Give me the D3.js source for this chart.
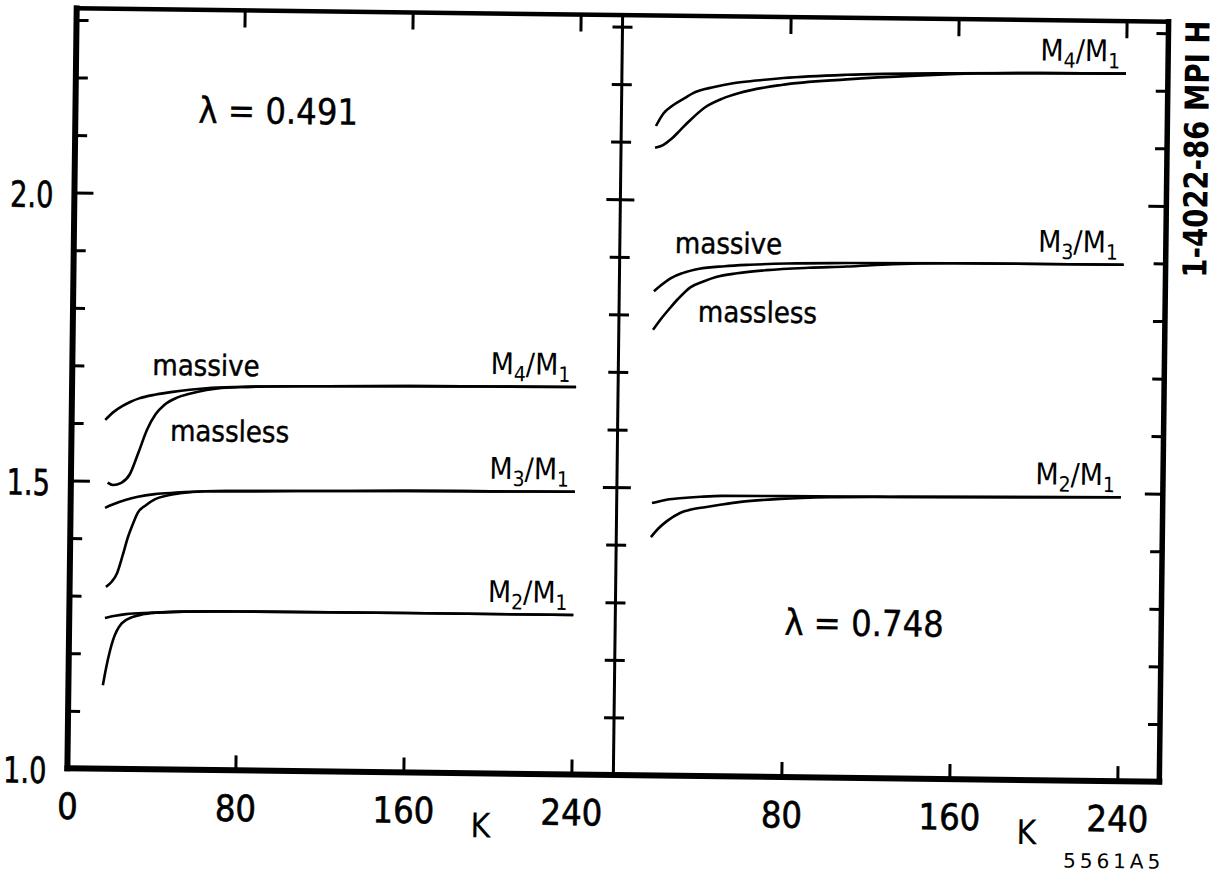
<!DOCTYPE html>
<html>
<head>
<meta charset="utf-8">
<script src="https://cdn.jsdelivr.net/npm/d3@7/dist/d3.min.js"></script>
<style>
body { margin: 0; background: #fff; }
svg { display: block; }
text { font-family: "DejaVu Sans Condensed", "DejaVu Sans", sans-serif; font-stretch: condensed; fill: #000; }
</style>
</head>
<body>
<script>
// tick values
var kTicks = [80, 160, 240];
var kLabelsLeft = [0, 80, 160, 240];
var kLabelsRight = [80, 160, 240];
var ratioMinorTicks = [1.1, 1.2, 1.3, 1.4, 1.6, 1.7, 1.8, 1.9, 2.1, 2.2, 2.3];
var ratioMajorTicks = [1.5, 2.0];
var ratioLabels = [1.0, 1.5, 2.0];

// lambda = 0.491 (left panel), [K, M_n/M_1]
var leftM4Massive = [[16,1.606],[20,1.620],[24,1.630],[28,1.638],[32,1.644],[40,1.651],[48,1.656],[56,1.660],[64,1.663],[80,1.666],[120,1.669],[160,1.671],[200,1.672],[240,1.673]];
var leftM4Massless = [[17.5,1.497],[20,1.493],[24,1.497],[28,1.512],[32,1.550],[36,1.590],[40,1.617],[44,1.633],[50,1.646],[56,1.653],[64,1.660],[80,1.666],[120,1.669],[160,1.671],[200,1.672],[240,1.673]];
var leftM3Massive = [[16.4,1.453],[20,1.459],[26,1.467],[32,1.473],[40,1.478],[50,1.481],[64,1.484],[80,1.485],[120,1.487],[160,1.489],[200,1.490],[240,1.491]];
var leftM3Massless = [[17.3,1.316],[20,1.325],[22.5,1.340],[25,1.370],[27.5,1.403],[30,1.428],[32,1.445],[36,1.459],[40,1.469],[46,1.476],[52,1.480],[64,1.484],[80,1.485],[120,1.487],[160,1.489],[200,1.490],[240,1.491]];
var leftM2Massive = [[17,1.262],[22,1.266],[27,1.269],[38,1.272],[50,1.274],[80,1.276],[160,1.277],[240,1.277]];
var leftM2Massless = [[16.4,1.145],[18,1.178],[21,1.224],[25,1.253],[30,1.264],[35,1.269],[41,1.272],[50,1.274],[80,1.276],[160,1.277],[240,1.277]];

// lambda = 0.748 (right panel)
var rightM4Massive = [[16.5,2.128],[20,2.150],[24,2.163],[30,2.177],[34,2.186],[44,2.197],[53,2.204],[64,2.209],[77,2.214],[107,2.221],[160,2.226],[200,2.228],[240,2.229]];
var rightM4Massless = [[16.2,2.090],[20,2.095],[24,2.106],[28,2.121],[32,2.136],[40,2.162],[48,2.177],[56,2.187],[76,2.202],[107,2.213],[140,2.221],[170,2.226],[200,2.228],[240,2.229]];
var rightM3Massive = [[16.5,1.841],[20,1.852],[25,1.865],[30,1.873],[38,1.881],[50,1.886],[62,1.889],[80,1.892],[108,1.894],[160,1.896],[240,1.897]];
var rightM3Massless = [[16.3,1.774],[20,1.793],[24,1.811],[28,1.828],[34,1.849],[40,1.859],[46,1.867],[56,1.874],[70,1.880],[90,1.885],[108,1.888],[130,1.893],[160,1.896],[240,1.897]];
var rightM2Massive = [[16.8,1.473],[20,1.476],[25,1.480],[30,1.482],[40,1.485],[50,1.487],[80,1.488],[135,1.489],[240,1.493]];
var rightM2Massless = [[16.5,1.414],[20,1.429],[24,1.442],[30,1.456],[36,1.463],[42,1.467],[50,1.472],[59,1.477],[78,1.483],[102,1.487],[135,1.489],[240,1.493]];

var W = 1227, H = 888;
var svg = d3.select("body").append("svg").attr("width", W).attr("height", H);

// the scanned figure sits slightly tilted
var chart = svg.append("g").attr("transform", "rotate(0.7, 617.5, 395)");

var y = d3.scaleLinear().domain([1, 2.32]).range([775, 15]);
var xLeft = d3.scaleLinear().domain([0, 260]).range([72, 618]);
var xRight = d3.scaleLinear().domain([0, 260]).range([618, 1164]);

var x0 = xLeft.range()[0], xMid = xLeft.range()[1], x1 = xRight.range()[1];
var yTop = y.range()[1], yBot = y.range()[0];

function cleanAxis(g) {
    g.select(".domain").remove();
    g.selectAll(".tick line").attr("stroke", "#000").attr("stroke-width", 3);
    g.attr("font-family", null).attr("font-size", null);
}

// squeeze a text a bit, the original lettering is narrower
function narrow(sel, f) {
    sel.each(function() {
        var len = this.getComputedTextLength();
        d3.select(this).attr("textLength", len * f).attr("lengthAdjust", "spacingAndGlyphs");
    });
}

function tickAxis(axis, tx, ty) {
    chart.append("g")
        .attr("transform", "translate(" + tx + "," + ty + ")")
        .call(axis)
        .call(cleanAxis)
        .selectAll("text").remove();
}

// left axis, inward ticks
tickAxis(d3.axisRight(y).tickValues(ratioMinorTicks).tickSize(12), x0, 0);
tickAxis(d3.axisRight(y).tickValues(ratioMajorTicks).tickSize(19), x0, 0);
// middle divider, ticks crossing it
tickAxis(d3.axisRight(y).tickValues(ratioMinorTicks).tickSize(20), xMid - 10, 0);
tickAxis(d3.axisRight(y).tickValues(ratioMajorTicks).tickSize(28), xMid - 14, 0);
// right border, inward ticks
tickAxis(d3.axisLeft(y).tickValues(ratioMinorTicks).tickSize(12), x1, 0);
tickAxis(d3.axisLeft(y).tickValues(ratioMajorTicks).tickSize(18), x1, 0);
// K ticks bottom and top
[xLeft, xRight].forEach(function(x) {
    tickAxis(d3.axisTop(x).tickValues(kTicks).tickSize(15), 0, yBot);
    tickAxis(d3.axisBottom(x).tickValues(kTicks).tickSize(17), 0, yTop);
});

// frame
var frame = [
    [x0, yTop, x1, yTop, 4.5],
    [x0, yBot, x1, yBot, 6],
    [x0, yTop, x0, yBot, 6],
    [x1, yTop, x1, yBot, 5.5],
    [xMid, yTop, xMid, yBot, 3]
];
chart.selectAll("line.frame").data(frame).enter().append("line")
    .attr("class", "frame")
    .attr("x1", function(d) { return d[0]; })
    .attr("y1", function(d) { return d[1]; })
    .attr("x2", function(d) { return d[2]; })
    .attr("y2", function(d) { return d[3]; })
    .attr("stroke", "#000")
    .attr("stroke-width", function(d) { return d[4]; })
    .attr("stroke-linecap", "square");

// axis numbers
chart.append("g")
    .attr("transform", "translate(" + x0 + ",0)")
    .call(d3.axisLeft(y).tickValues(ratioLabels).tickSize(0).tickPadding(21).tickFormat(d3.format(".1f")))
    .call(cleanAxis)
    .selectAll("text")
    .attr("font-size", 36).attr("dy", "0.4em")
    .attr("stroke", "#000").attr("stroke-width", 0.6)
    .call(narrow, 0.84);

[[xLeft, kLabelsLeft], [xRight, kLabelsRight]].forEach(function(p) {
    chart.append("g")
        .attr("transform", "translate(0," + yBot + ")")
        .call(d3.axisBottom(p[0]).tickValues(p[1]).tickSize(0).tickPadding(25))
        .call(cleanAxis)
        .selectAll("text")
        .attr("font-size", 36)
        .attr("stroke", "#000").attr("stroke-width", 0.6);
});

[xLeft, xRight].forEach(function(x) {
    chart.append("text")
        .attr("x", x(197))
        .attr("y", yBot + 64)
        .attr("text-anchor", "middle")
        .attr("font-size", 34)
        .text("K");
});

// curves
var series = [
    { x: xLeft, data: leftM4Massive, sub: "4" },
    { x: xLeft, data: leftM4Massless },
    { x: xLeft, data: leftM3Massive, sub: "3" },
    { x: xLeft, data: leftM3Massless },
    { x: xLeft, data: leftM2Massive, sub: "2" },
    { x: xLeft, data: leftM2Massless },
    { x: xRight, data: rightM4Massive, sub: "4" },
    { x: xRight, data: rightM4Massless },
    { x: xRight, data: rightM3Massive, sub: "3" },
    { x: xRight, data: rightM3Massless },
    { x: xRight, data: rightM2Massive, sub: "2" },
    { x: xRight, data: rightM2Massless }
];

series.forEach(function(s) {
    var line = d3.line()
        .x(function(d) { return s.x(d[0]); })
        .y(function(d) { return y(d[1]); })
        .curve(d3.curveMonotoneX);
    chart.append("path")
        .attr("d", line(s.data))
        .attr("fill", "none")
        .attr("stroke", "#000")
        .attr("stroke-width", 2.6);

    if (s.sub) {
        var last = s.data[s.data.length - 1];
        var t = chart.append("text")
            .attr("x", s.x(last[0]) - 6)
            .attr("y", y(last[1]) - 12)
            .attr("text-anchor", "end")
            .attr("font-size", 30);
        t.append("tspan").text("M");
        t.append("tspan").attr("font-size", 21).attr("dy", 7).text(s.sub);
        t.append("tspan").attr("dy", -7).text("/M");
        t.append("tspan").attr("font-size", 21).attr("dy", 7).text("1");
    }
});

// annotations
var notes = [
    { x: xLeft, k: 58.6, v: 2.124, size: 36, text: "\u03bb = 0.491" },
    { x: xRight, k: 80.5, v: 1.247, size: 36, text: "\u03bb = 0.748" },
    { x: xLeft, k: 38.1, v: 1.685, size: 29, text: "massive" },
    { x: xLeft, k: 46.9, v: 1.571, size: 29, text: "massless" },
    { x: xRight, k: 26.2, v: 1.908, size: 29, text: "massive" },
    { x: xRight, k: 37.6, v: 1.789, size: 29, text: "massless" }
];
chart.selectAll("text.note").data(notes).enter().append("text")
    .attr("class", "note")
    .attr("x", function(d) { return d.x(d.k); })
    .attr("y", function(d) { return y(d.v); })
    .attr("font-size", function(d) { return d.size; })
    .attr("stroke", "#000")
    .attr("stroke-width", 0.4)
    .text(function(d) { return d.text; });

chart.append("text")
    .attr("transform", "translate(1193,142) rotate(-90)")
    .attr("text-anchor", "middle")
    .attr("dy", "0.36em")
    .attr("font-size", 33)
    .attr("font-weight", "bold")
    .attr("textLength", 257)
    .attr("lengthAdjust", "spacingAndGlyphs")
    .text("1-4022-86 MPI H");

chart.append("text")
    .attr("x", 1170)
    .attr("y", 862)
    .attr("text-anchor", "end")
    .attr("font-size", 20)
    .attr("letter-spacing", 4)
    .style("font-stretch", "normal")
    .style("font-family", "'DejaVu Sans', sans-serif")
    .text("5561A5");
</script>
</body>
</html>
